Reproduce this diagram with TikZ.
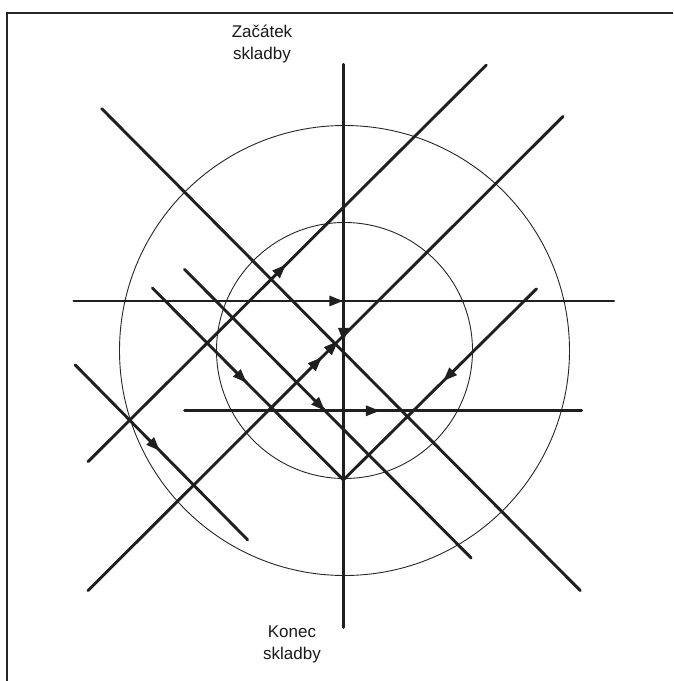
\documentclass[tikz,border=0pt]{standalone}
\usepackage{fontspec}
\setmainfont{Liberation Sans}
\usetikzlibrary{arrows.meta,decorations.markings}
\tikzstyle{track}=[line width=2.9pt, line cap=round, black!88]
\tikzstyle{ring}=[line width=0.9pt, black!85]
\tikzstyle{frame}=[line width=1.8pt, black!85]
\tikzstyle{caption}=[align=center, font=\fontsize{17}{22}\selectfont, inner sep=0pt, black!90]
\tikzset{midarrow/.style={postaction={decorate}, decoration={markings, mark=at position #1 with {\arrow{Triangle[length=14pt,width=10pt]}}}}}

\begin{document}
\begin{tikzpicture}[x=1pt,y=-1pt]
	\useasboundingbox (0,0) rectangle (673,681);
	\draw[frame] (7,681) -- (7,13) -- (673,13);

	\coordinate (mid) at (344.5,350.5);
	\coordinate (v1) at (343.4,64.3);
	\coordinate (v2) at (343.4,627.5);
	\coordinate (h1) at (73.8,301);
	\coordinate (h2) at (613.8,301);
	\coordinate (k1) at (184.6,410.8);
	\coordinate (k2) at (581.6,410.8);
	\coordinate (d1) at (101.7,108.6);
	\coordinate (d2) at (580.3,590.6);
	\coordinate (e1) at (184.5,269.3);
	\coordinate (e2) at (471.2,558);
	\coordinate (f1) at (152.4,288);
	\coordinate (vb) at (343.4,479.9);
	\coordinate (c1) at (536.5,288.8);
	\coordinate (g1) at (75.1,364.8);
	\coordinate (g2) at (247.6,539.8);
	\coordinate (a1) at (88,461.7);
	\coordinate (a2) at (486.3,65.1);
	\coordinate (b1) at (88,590.6);
	\coordinate (b2) at (563.1,116.4);

	\draw[ring] (mid) circle (225);
	\draw[ring] (mid) circle (128);

	\draw[track, midarrow=0.493] (v1) -- (v2);
	\draw[track, midarrow=0.499] (h1) -- (h2);
	\draw[track, midarrow=0.492] (k1) -- (k2);
	\draw[track] (d1) -- (d2);
	\draw[track, midarrow=0.49] (e1) -- (e2);
	\draw[track, midarrow=0.494] (f1) -- (vb);
	\draw[track, midarrow=0.483] (c1) -- (vb);
	\draw[track, midarrow=0.492] (g1) -- (g2);
	\draw[track, midarrow=0.497] (a1) -- (a2);
	\draw[track, midarrow=0.492, midarrow=0.526] (b1) -- (b2);

	\node[caption] (start) at (262,44) {Začátek\\skladby};
	\node[caption] (finish) at (292,644) {Konec\\skladby};
\end{tikzpicture}
\end{document}
